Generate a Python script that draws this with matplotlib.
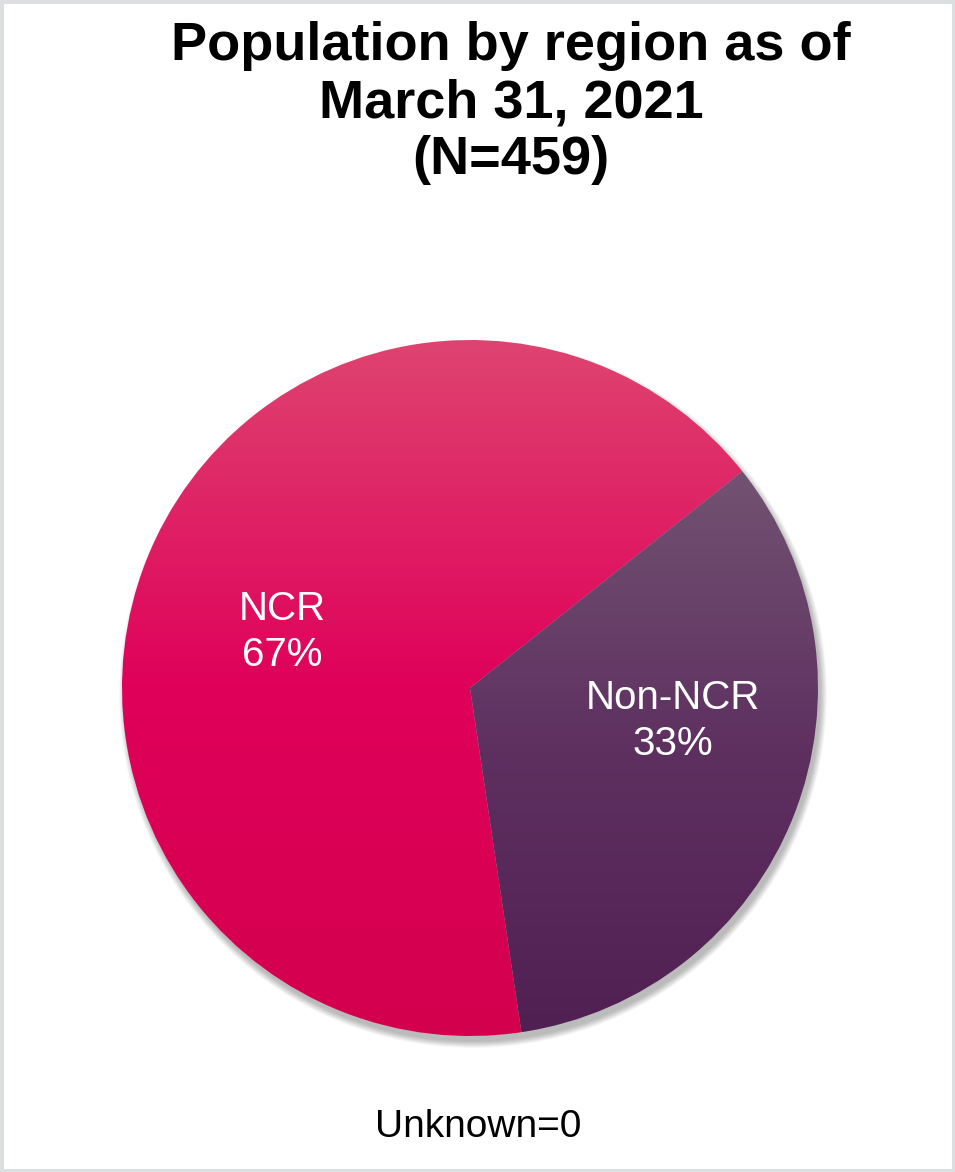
import numpy as np
import matplotlib.pyplot as plt
from matplotlib.colors import LinearSegmentedColormap
from matplotlib.patches import Rectangle, Circle

labels = ["NCR", "Non-NCR"]
counts = [306, 153]
grad_colors = [["#de4470", "#e0005a", "#d3004e"],
               ["#725272", "#5e3060", "#502052"]]
title = "Population by region as of\nMarch 31, 2021\n(N=459)"
note = "Unknown=0"

W, H = 955, 1172
fig = plt.figure(figsize=(W / 100, H / 100), dpi=100)
ax = fig.add_axes([0, 0, 1, 1])

cx, cy, r = 470, H - 688, 348

# soft shadow below-right
for i in range(12):
    ax.add_patch(Circle((cx + 3, cy - 6), r + 6 - i * 0.6, color="black",
                        alpha=0.025, lw=0, zorder=1))

wedges, _ = ax.pie(counts, center=(cx, cy), radius=r, startangle=38.5,
                   counterclock=True, frame=True)
ax.set_xlim(0, W)
ax.set_ylim(0, H)
ax.axis("off")

inv = ax.transData.inverted()
for w, cols in zip(wedges, grad_colors):
    w.set_facecolor("none")
    w.set_edgecolor("none")
    w.set_zorder(2)
    bb = w.get_path().get_extents(w.get_transform())
    (x0, y0), (x1, y1) = inv.transform([[bb.x0, bb.y0], [bb.x1, bb.y1]])
    cmap = LinearSegmentedColormap.from_list("g", cols)
    grad = np.linspace(0, 1, 256).reshape(-1, 1)
    im = ax.imshow(grad, cmap=cmap, extent=[x0, x1, y0, y1], origin="upper",
                   aspect="auto", zorder=2)
    im.set_clip_path(w)

ax.set_xlim(0, W)
ax.set_ylim(0, H)

pct = [round(c / sum(counts) * 100) for c in counts]
ax.text(282, H - 632, f"{labels[0]}\n{pct[0]}%", ha="center", va="center",
        color="white", fontsize=29, family="Liberation Sans", linespacing=1.25, zorder=5)
ax.text(673, H - 721, f"{labels[1]}\n{pct[1]}%", ha="center", va="center",
        color="white", fontsize=29, family="Liberation Sans", linespacing=1.25, zorder=5)

ax.text(511, H - 103, title, ha="center", va="center", fontsize=39,
        fontweight="bold", family="Liberation Sans", linespacing=1.17)
ax.text(478, H - 1127, note, ha="center", va="center", fontsize=28,
        family="Liberation Sans")

fig.patches.append(Rectangle((0, 0), 1, 1, transform=fig.transFigure, fill=False,
                             edgecolor="#dcdfe0", lw=5))

fig.savefig("out.png", dpi=100)
